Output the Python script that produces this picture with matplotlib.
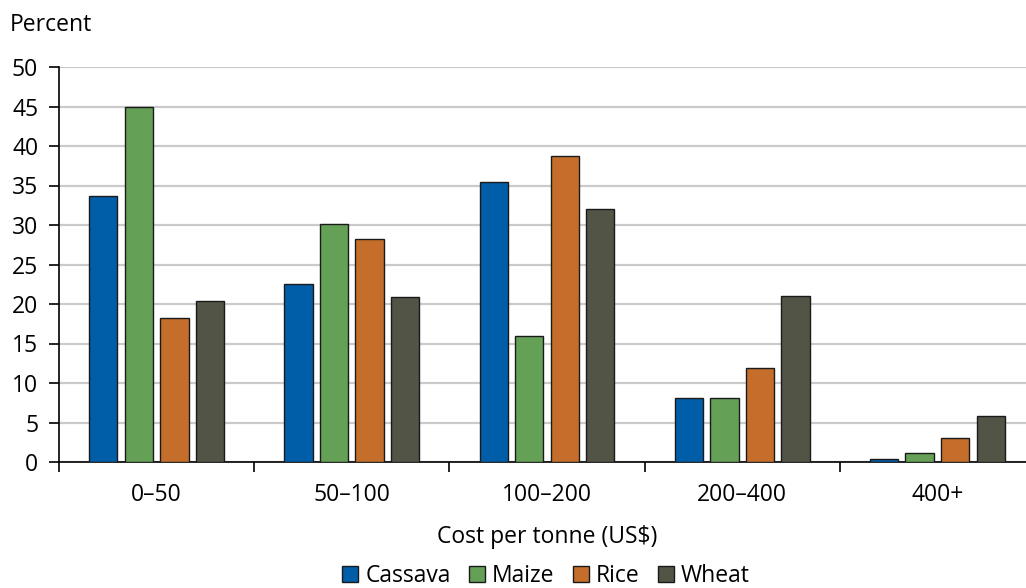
import numpy as np
import matplotlib.pyplot as plt

plt.rcParams['font.family'] = ['Open Sans', 'DejaVu Sans']

categories = ["0–50", "50–100", "100–200", "200–400", "400+"]
cassava = [33.7, 22.5, 35.4, 8.1, 0.4]
maize = [44.9, 30.1, 15.9, 8.1, 1.1]
rice = [18.2, 28.2, 38.7, 11.9, 3.0]
wheat = [20.4, 20.9, 32.0, 21.0, 5.8]

series = [("Cassava", cassava, "#005DA8"),
          ("Maize", maize, "#65A057"),
          ("Rice", rice, "#C56E2B"),
          ("Wheat", wheat, "#525446")]

FS = 16.5
W, H = 1026, 588
fig = plt.figure(figsize=(W / 100, H / 100), dpi=100)
# plot area runs a little past the right edge of the figure
ax = fig.add_axes([59 / W, 1 - 462 / H, 976 / W, 395 / H])

x = np.arange(len(categories))
width = 0.145
step = 0.182
for i, (name, vals, col) in enumerate(series):
    ax.bar(x + (i - 1.5) * step, vals, width, color=col, edgecolor="#1a1a1a",
           linewidth=1.0, label=name, zorder=3)

ax.set_xlim(-0.5, len(categories) - 0.5)
ax.set_ylim(0, 50)
ax.set_yticks(range(0, 51, 5))
ax.yaxis.grid(True, color="#CACACA", linewidth=1.6, zorder=0)
ax.set_axisbelow(True)

ax.set_xticks(x)
ax.set_xticklabels(categories)
ax.set_xticks(np.arange(-0.5, len(categories)), minor=True)
ax.tick_params(axis="x", which="major", length=0, pad=15, labelsize=FS)
ax.tick_params(axis="x", which="minor", length=7, width=1.2, color="black")
ax.tick_params(axis="y", length=7, width=1.2, labelsize=FS, pad=8)

for s in ["top", "right"]:
    ax.spines[s].set_visible(False)
for s in ["left", "bottom"]:
    ax.spines[s].set_linewidth(1.2)

fig.text(10 / W, 1 - 25 / H, "Percent", fontsize=FS, va="center", ha="left")
fig.text(547 / W, 1 - 537 / H, "Cost per tonne (US$)", fontsize=FS,
         va="center", ha="center")

fig.legend(loc="center", bbox_to_anchor=(546 / W, 1 - 576 / H), ncol=4,
           frameon=False, fontsize=FS, handlelength=0.7, handleheight=0.7,
           handletextpad=0.3, columnspacing=0.8, borderaxespad=0)

fig.savefig("out.png", dpi=100)
